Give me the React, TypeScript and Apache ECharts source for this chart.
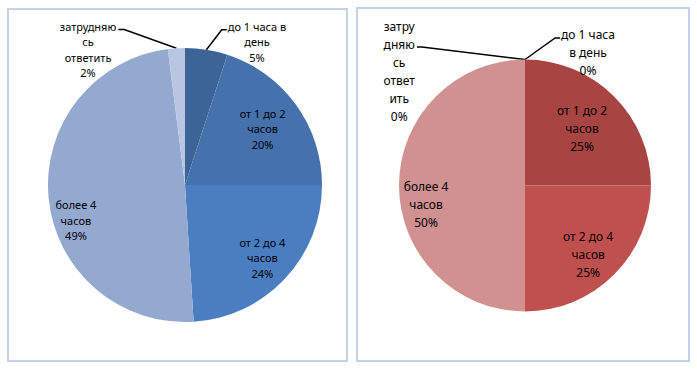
import React, { useEffect, useRef } from "react";
import * as echarts from "echarts";

// ---- data ----
const categories = [
  "до 1 часа в день",
  "от 1 до 2 часов",
  "от 2 до 4 часов",
  "более 4 часов",
  "затрудняюсь ответить",
];
const leftValues = [5, 20, 24, 49, 2];
const rightValues = [0, 25, 25, 50, 0];

// label texts as wrapped in the picture (without the percentage line)
const leftLabelText = ["до 1 часа в\nдень", "от 1 до 2\nчасов", "от 2 до 4\nчасов", "более 4\nчасов", "затрудняю\nсь\nответить"];
const rightLabelText = ["до 1 часа\nв день", "от 1 до 2\nчасов", "от 2 до 4\nчасов", "более 4\nчасов", "затру\nдняю\nсь\nответ\nить"];

const leftColors = ["#3d6497", "#4571ac", "#4b7ec0", "#94a9d0", "#b9c6e1"];
const rightColors = ["#a84442", "#a84442", "#c0504d", "#d09190", "#d9aaa9"];

type Spec = { f: number; dTheta: number; line?: { side: "left" | "right"; dy: number; elbow: number } };

const leftSpecs: Spec[] = [
  { f: 1.169, dTheta: 17.7, line: { side: "left", dy: 11, elbow: 5 } },
  { f: 0.7, dTheta: 0 },
  { f: 0.775, dTheta: 0 },
  { f: 0.836, dTheta: -12.4 },
  { f: 1.216, dTheta: -32, line: { side: "right", dy: 11, elbow: 6 } },
];
const rightSpecs: Spec[] = [
  { f: 1.17, dTheta: 25.3, line: { side: "left", dy: 12.7, elbow: 5 } },
  { f: 0.64, dTheta: 0 },
  { f: 0.74, dTheta: 2.4 },
  { f: 0.8, dTheta: -11 },
  { f: 1.35, dTheta: -47.7, line: { side: "right", dy: 30, elbow: 5 } },
];

function midAngles(values: number[]) {
  const total = values.reduce((a, b) => a + b, 0);
  let acc = 0;
  return values.map((v) => {
    const mid = ((acc + v / 2) / total) * 360;
    acc += v;
    return mid;
  });
}

function makeSeries(
  values: number[],
  texts: string[],
  colors: string[],
  specs: Spec[],
  cx: number,
  cy: number,
  R: number,
  fontSize: number,
  lineHeight: number
) {
  const mids = midAngles(values);
  const dir = (deg: number) => {
    const r = (deg * Math.PI) / 180;
    return [Math.sin(r), -Math.cos(r)];
  };
  return {
    type: "pie",
    center: [cx, cy],
    radius: R,
    startAngle: 90,
    clockwise: true,
    avoidLabelOverlap: false,
    silent: true,
    z: 2,
    itemStyle: { borderWidth: 0 },
    label: {
      show: true,
      position: "outside",
      color: "#000",
      fontFamily: "Noto Sans",
      fontSize,
      lineHeight,
      align: "center",
      formatter: (p: any) => texts[p.dataIndex] + "\n" + Math.round(p.percent) + "%",
    },
    labelLine: { show: true, length: 10, length2: 5, lineStyle: { color: "#000", width: 1.5 } },
    labelLayout: (p: any) => {
      const i = p.dataIndex;
      const s = specs[i];
      const d = dir(mids[i] + s.dTheta);
      const x = cx + s.f * R * d[0];
      const y = cy + s.f * R * d[1];
      const w = p.labelRect.width;
      const h = p.labelRect.height;
      const res: any = { x, y, align: "center", verticalAlign: "middle" };
      if (s.line) {
        const d0 = dir(mids[i]);
        const p0 = [cx + R * d0[0], cy + R * d0[1]];
        const top = y - h / 2;
        const ey = top + s.line.dy;
        const ex = s.line.side === "left" ? x - w / 2 - 1 : x + w / 2 + 2;
        const elx = s.line.side === "left" ? ex - s.line.elbow : ex + s.line.elbow;
        res.labelLinePoints = [p0, [elx, ey], [ex, ey]];
      }
      return res;
    },
    data: values.map((v, i) => ({
      value: v,
      name: categories[i],
      itemStyle: { color: colors[i] },
      labelLine: { show: !!specs[i].line },
    })),
  };
}

export default function App() {
  const ref = useRef<HTMLDivElement>(null);
  useEffect(() => {
    if (!ref.current) return;
    const chart = echarts.init(ref.current, null, { renderer: "svg" });
    chart.setOption({
      animation: false,
      backgroundColor: "#ffffff",
      graphic: [
        {
          type: "rect",
          z: 0,
          shape: { x: 8, y: 9, width: 339, height: 352 },
          style: { fill: "#ffffff", stroke: "#c3d3e7", lineWidth: 2 },
        },
        {
          type: "rect",
          z: 0,
          shape: { x: 357, y: 8, width: 332, height: 353 },
          style: { fill: "#ffffff", stroke: "#c3d3e7", lineWidth: 2 },
        },
      ],
      series: [
        makeSeries(leftValues, leftLabelText, leftColors, leftSpecs, 185, 185, 137, 11, 15.5),
        makeSeries(rightValues, rightLabelText, rightColors, rightSpecs, 525, 185.5, 126, 12, 18),
      ],
    });
    return () => chart.dispose();
  }, []);
  return (
    <div
      ref={ref}
      style={{ position: "fixed", left: 0, top: 0, width: 697, height: 370 }}
    />
  );
}
